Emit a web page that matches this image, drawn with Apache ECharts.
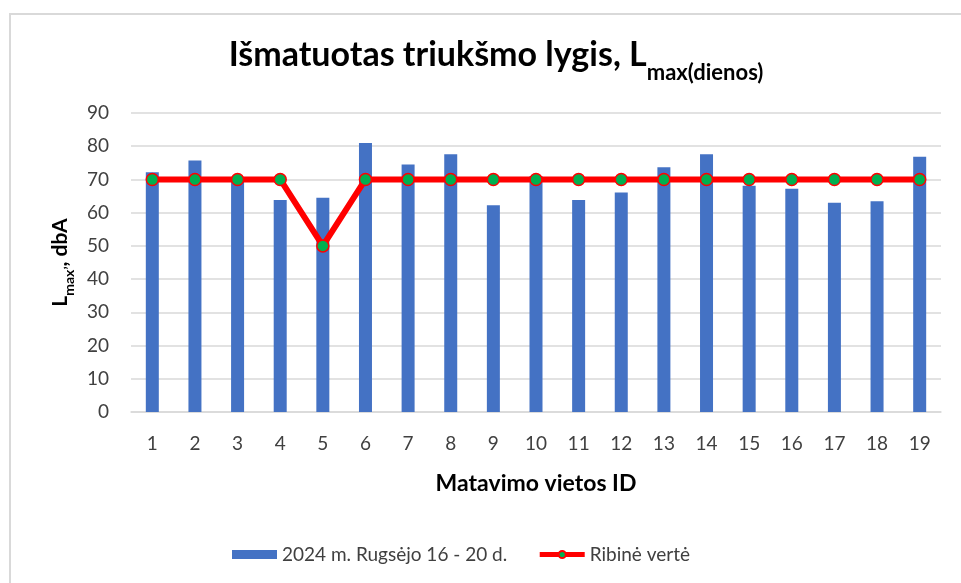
<!DOCTYPE html>
<html>
<head>
<meta charset="utf-8">
<script src="https://cdn.jsdelivr.net/npm/echarts@6/dist/echarts.min.js"></script>
<style>
  html, body { margin: 0; padding: 0; background: #fff; }
  #chart { width: 961px; height: 583px; }
</style>
</head>
<body>
<div id="chart"></div>
<script>
// matavimo vietos
const vietos = ['1', '2', '3', '4', '5', '6', '7', '8', '9', '10', '11', '12', '13', '14', '15', '16', '17', '18', '19']
// išmatuotas Lmax, dbA
const matuota = [72.2, 75.7, 70.2, 63.8, 64.5, 81.0, 74.5, 77.6, 62.2, 71.0, 63.8, 66.1, 73.7, 77.6, 68.1, 67.2, 63.0, 63.4, 76.8]
// ribinė vertė
const ribine = [70, 70, 70, 70, 50, 70, 70, 70, 70, 70, 70, 70, 70, 70, 70, 70, 70, 70, 70]

const yTicks = { min: 0, max: 90, interval: 10 }
const seriesNames = ['2024 m. Rugsėjo 16 - 20 d.', 'Ribinė vertė']

const font = 'Lato, "Noto Sans", sans-serif'
const chart = echarts.init(document.getElementById('chart'))

const option = {
  textStyle: { fontFamily: font },
  graphic: [
    {
      type: 'rect',
      z: -10,
      shape: { x: 10, y: 14, width: 1000, height: 620 },
      style: { fill: 'none', stroke: '#d9d9d9', lineWidth: 2 }
    }
  ],
  title: {
    left: 491,
    top: 33,
    textAlign: 'center',
    text: '{a|Išmatuotas triukšmo lygis, L}{b|max(dienos)}',
    textStyle: {
      rich: {
        a: { fontFamily: font, fontSize: 34, fontWeight: 'bold', color: '#000', lineHeight: 40, verticalAlign: 'top' },
        b: { fontFamily: font, fontSize: 22, fontWeight: 'bold', color: '#000', lineHeight: 22, verticalAlign: 'top', padding: [24, 0, 0, 0] }
      }
    }
  },
  legend: {
    left: 227,
    top: 540,
    itemWidth: 45,
    itemHeight: 9,
    itemGap: 30,
    data: [
      { name: seriesNames[0], icon: 'rect' },
      { name: seriesNames[1], lineStyle: { width: 5 } }
    ],
    textStyle: { fontFamily: font, fontSize: 19, color: '#404040' }
  },
  grid: { left: 131, right: 20, top: 113, bottom: 171 },
  xAxis: {
    type: 'category',
    data: vietos,
    name: 'Matavimo vietos ID',
    nameLocation: 'middle',
    nameGap: 60,
    nameTextStyle: { fontFamily: font, fontSize: 23, fontWeight: 'bold', color: '#000' },
    axisLine: { lineStyle: { color: '#d9d9d9', width: 1.5 } },
    axisTick: { show: false },
    axisLabel: { fontFamily: font, fontSize: 19, color: '#404040', margin: 22 }
  },
  yAxis: {
    type: 'value',
    min: yTicks.min,
    max: yTicks.max,
    interval: yTicks.interval,
    name: '{m|L}{s|max\u2019}{m|, dbA}',
    nameLocation: 'middle',
    nameGap: 46,
    nameRotate: 90,
    nameTextStyle: {
      rich: {
        m: { fontFamily: font, fontSize: 21, fontWeight: 'bold', color: '#000', lineHeight: 24, verticalAlign: 'top' },
        s: { fontFamily: font, fontSize: 14, fontWeight: 'bold', color: '#000', lineHeight: 15, verticalAlign: 'top', padding: [12, 0, 0, 0] }
      }
    },
    axisLine: { show: false },
    axisTick: { show: false },
    axisLabel: { fontFamily: font, fontSize: 19, color: '#404040', margin: 22 },
    splitLine: { lineStyle: { color: '#d9d9d9', width: 1.5 } }
  },
  series: [
    {
      name: seriesNames[0],
      type: 'bar',
      data: matuota,
      barWidth: 13,
      itemStyle: { color: '#4472C4' }
    },
    {
      name: seriesNames[1],
      type: 'line',
      data: ribine,
      symbol: 'circle',
      symbolSize: 12,
      lineStyle: { color: '#ff0000', width: 6 },
      itemStyle: { color: '#00b050', borderColor: '#ff0000', borderWidth: 1.5 }
    }
  ]
}

chart.setOption(option)
</script>
</body>
</html>
